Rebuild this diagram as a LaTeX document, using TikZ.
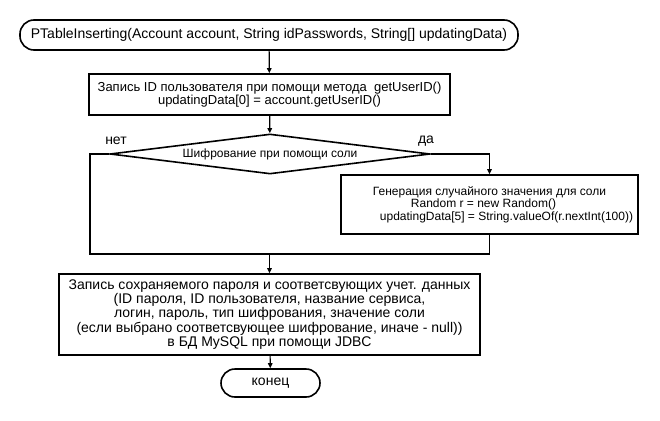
\documentclass[tikz,border=0pt]{standalone}
\usepackage{fontspec}
\setmainfont{Liberation Sans}
\usetikzlibrary{shapes.geometric,arrows.meta}
\begin{document}
\begin{tikzpicture}[x=1pt,y=-1pt,
  big/.style={font=\fontsize{14}{14.2}\selectfont},
  mid/.style={font=\fontsize{13}{13}\selectfont},
  small/.style={font=\fontsize{12}{12.5}\selectfont},
  box/.style={draw, line width=1.6pt, inner sep=0pt, align=center},
  term/.style={box, rounded corners=14pt},
  dec/.style={box, diamond, shape aspect=8},
  conn/.style={line width=1.2pt, -{Triangle[length=5pt,width=4.5pt]}},
  line/.style={line width=1.2pt},
  lbl/.style={big, inner sep=0pt}]
\useasboundingbox (0,0) rectangle (660,420);
\node[term, big, minimum width=498, minimum height=30] (start) at (269,35)
  {PTableInserting(Account account, String idPasswords, String[] updatingData)};
\node[box, mid, minimum width=361, minimum height=41] (b1) at (269.5,94.5)
  {Запись ID пользователя при помощи метода\ \ getUserID()\\updatingData[0] = account.getUserID()};
\node[dec, small, minimum width=320, minimum height=40] (d) at (270,154)
  {Шифрование при помощи соли};
\node[box, small, minimum width=297, minimum height=59] (b2) at (489.5,204.5)
  {Генерация случайного значения для соли\\\hspace*{-12pt}Random r = new Random()\\\hspace*{34pt}updatingData[5] = String.valueOf(r.nextInt(100))};
\node[box, big, minimum width=421, minimum height=81] (b3) at (269.5,314.5)
  {Запись сохраняемого пароля и соответсвующих учет. данных\\(ID пароля, ID пользователя, название сервиса,\\логин, пароль, тип шифрования, значение соли\\(если выбрано соответсвующее шифрование, иначе - null))\\в БД MySQL при помощи JDBC};
\node[term, big, minimum width=99, minimum height=28] (e) at (270.5,383) {конец};
\node[lbl] (no) at (116,141) {нет};
\node[lbl] (yes) at (426,141) {да};
\coordinate (jl) at (90,254);
\coordinate (jr) at (489.5,254);
\coordinate (jm) at (269.5,254);
\draw[conn] (start) -- (b1);
\draw[conn] (b1) -- (d);
\draw[line] (d.west) -| (jl) -- (jr);
\draw[conn] (d.east) -| (b2.north);
\draw[line] (b2.south) -- (jr);
\draw[conn] (jm) -- (b3);
\draw[conn] (b3) -- (e);
\end{tikzpicture}
\end{document}
